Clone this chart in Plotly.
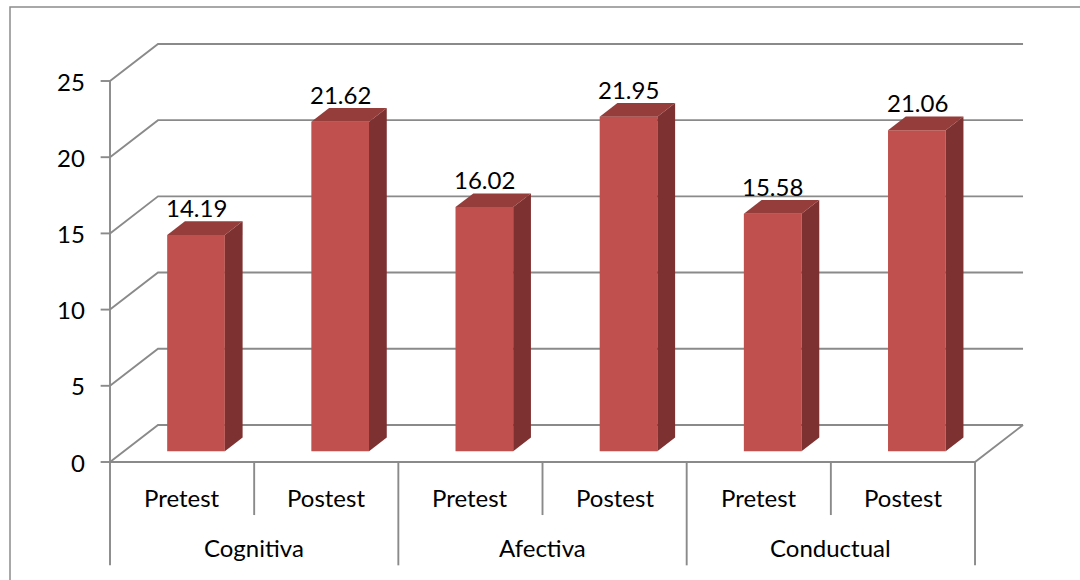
import plotly.graph_objects as go

# Data
groups = ["Cognitiva", "Afectiva", "Conductual"]
phases = ["Pretest", "Postest"]
values = [14.19, 21.62, 16.02, 21.95, 15.58, 21.06]
y_ticks = [0, 5, 10, 15, 20, 25]

# 3D look: depth offset of the back wall (category units, value units)
DX, DY = 0.333, 2.43
F_FRONT, F_BACK = 0.29, 0.66      # bar depth position as fraction of floor depth
BAR_W = 0.40

FRONT = "#C0504D"
TOP = "#943D3A"
SIDE = "#7D3130"
GRID = "#8A8A8A"
FONT = "Lato"
FSIZE = 24

n = len(values)
fig = go.Figure()


def poly(xs, ys, color):
    fig.add_trace(go.Scatter(
        x=xs + [xs[0]], y=ys + [ys[0]], mode="lines", fill="toself",
        fillcolor=color, line=dict(width=0, color=color),
        hoverinfo="skip", showlegend=False))


def seg(xs, ys, width=1.9, color=GRID):
    fig.add_trace(go.Scatter(
        x=xs, y=ys, mode="lines", line=dict(width=width, color=color),
        hoverinfo="skip", showlegend=False))


# Walls: gridlines on the side wall (diagonal) and back wall (horizontal)
for t in y_ticks:
    seg([0, DX, n + DX], [t, t + DY, t + DY])
    seg([-0.065, 0], [t, t])            # tick mark
# Floor front edge and right edge
seg([0, n, n + DX], [0, 0, DY])
# Value axis line
seg([0, 0], [0, y_ticks[-1]])

# Category dividers below the floor
for i in range(n + 1):
    bottom = -6.78 if i % 2 == 0 else -3.48
    seg([i, i], [0, bottom])

# Bars
b1, b2 = F_FRONT * DY, F_BACK * DY
ddx = (F_BACK - F_FRONT) * DX
for i, v in enumerate(values):
    c = i + 0.5 + F_FRONT * DX
    x0, x1 = c - BAR_W / 2, c + BAR_W / 2
    poly([x0, x1, x1, x0], [b1, b1, v + b1, v + b1], FRONT)
    poly([x1, x1 + ddx, x1 + ddx, x1], [b1, b2, v + b2, v + b1], SIDE)
    poly([x0, x1, x1 + ddx, x0 + ddx], [v + b1, v + b1, v + b2, v + b2], TOP)
    fig.add_annotation(x=c + ddx / 2 - 0.06, y=v + b2, text=f"{v:.2f}",
                       showarrow=False, yanchor="middle", yshift=14,
                       font=dict(family=FONT, size=FSIZE, color="black"))

# Tick labels
for t in y_ticks:
    fig.add_annotation(x=-0.16, y=t, text=str(t), showarrow=False,
                       xanchor="right", yanchor="middle",
                       font=dict(family=FONT, size=FSIZE, color="black"))

# Category labels (two levels)
for gi, g in enumerate(groups):
    for pi, p in enumerate(phases):
        fig.add_annotation(x=gi * 2 + pi + 0.5, y=-2.3, text=p, showarrow=False,
                           yanchor="middle",
                           font=dict(family=FONT, size=FSIZE, color="black"))
    fig.add_annotation(x=gi * 2 + 1, y=-5.64, text=g, showarrow=False,
                       yanchor="middle",
                       font=dict(family=FONT, size=FSIZE, color="black"))

# Chart area border
fig.add_shape(type="rect", xref="paper", yref="paper",
              x0=10 / 1080, x1=1.02, y0=-0.02, y1=1 - 7 / 580,
              line=dict(color="#8C8C8C", width=1.5))

PX_PER_X = 144.17
PX_PER_Y = 15.24
fig.update_layout(
    width=1080, height=580, margin=dict(l=0, r=0, t=0, b=0),
    paper_bgcolor="white", plot_bgcolor="white",
    xaxis=dict(range=[-110 / PX_PER_X, (1080 - 110) / PX_PER_X],
               visible=False, fixedrange=True),
    yaxis=dict(range=[-(580 - 462) / PX_PER_Y, 462 / PX_PER_Y],
               visible=False, fixedrange=True),
    showlegend=False,
)

fig.write_html("out.html")
